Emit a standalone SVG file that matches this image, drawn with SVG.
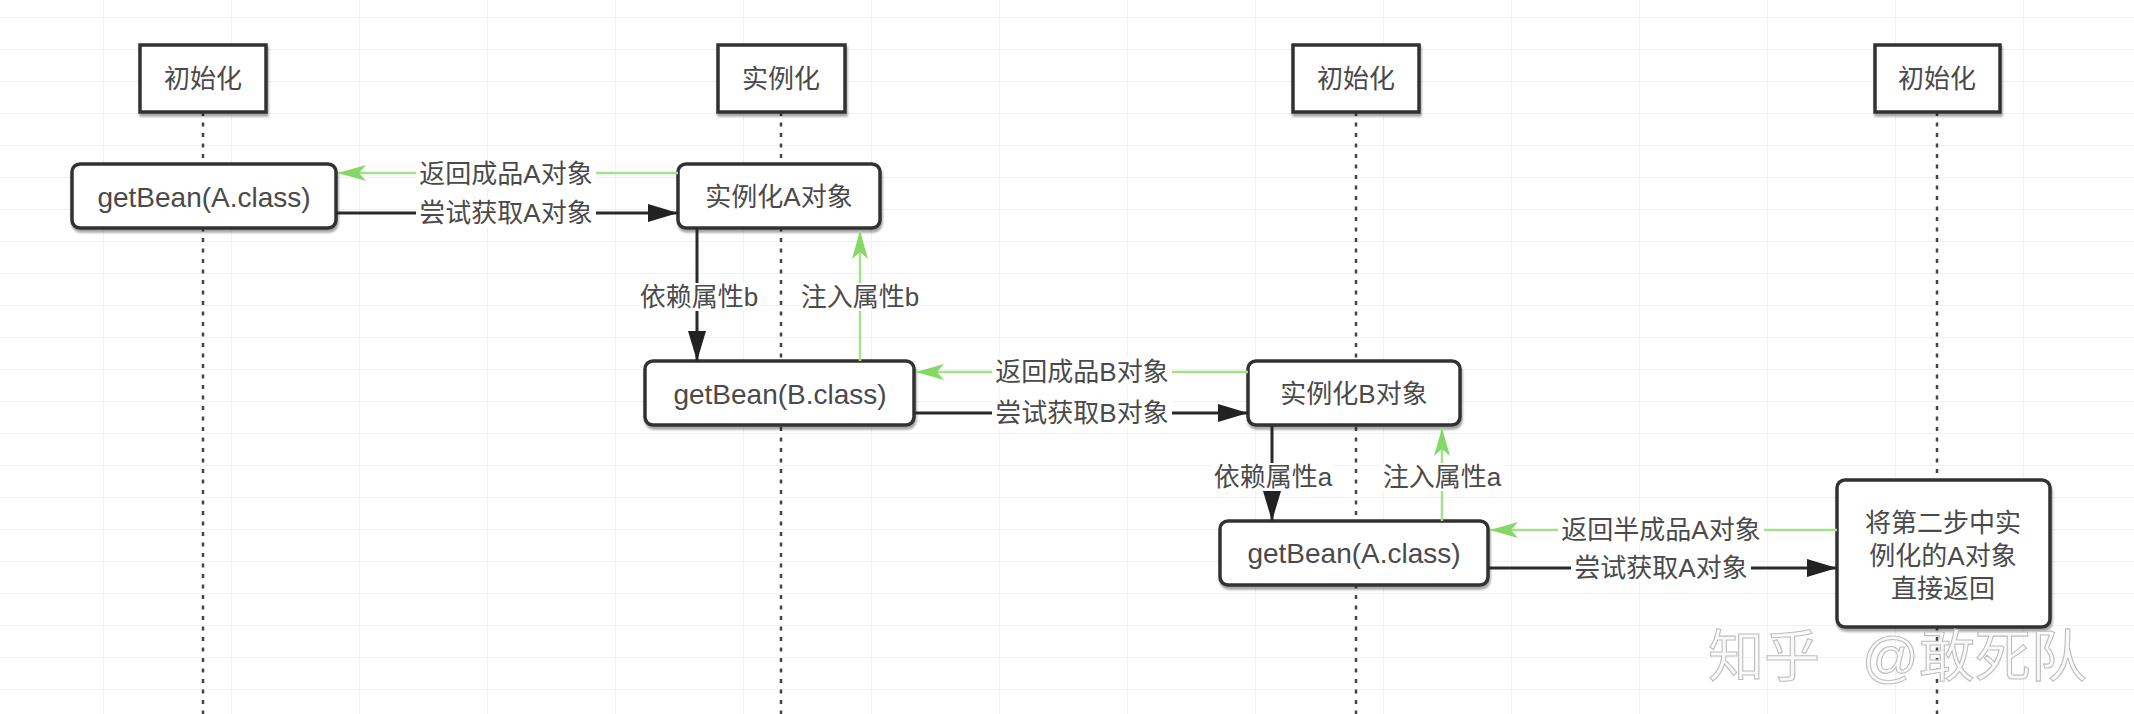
<svg xmlns="http://www.w3.org/2000/svg" width="2134" height="714" viewBox="0 0 2134 714">
  <defs>
    <pattern id="grid" x="-25" y="17" width="128" height="32" patternUnits="userSpaceOnUse">
      <path d="M0,0 H128 M0,0 V32" fill="none" stroke="#eeeeee" stroke-width="1.5"/>
    </pattern>
    <filter id="sh" x="-10%" y="-10%" width="120%" height="130%">
      <feDropShadow dx="1" dy="3" stdDeviation="1.2" flood-color="#000" flood-opacity="0.35"/>
    </filter>
    <marker id="arrB" markerUnits="userSpaceOnUse" markerWidth="30" markerHeight="18" refX="30" refY="9" orient="auto">
      <path d="M0,0 L30,9 L0,18 Z" fill="#222"/>
    </marker>
    <marker id="arrG" markerUnits="userSpaceOnUse" markerWidth="28" markerHeight="16" refX="28" refY="8" orient="auto">
      <path d="M0,0 L28,8 L0,16 L7,8 Z" fill="#86d866"/>
    </marker>
  </defs>
  <style>
    text { font-family: "Liberation Sans", "Noto Sans CJK SC", sans-serif; fill: #4a4a4a; font-size: 26px; }
    .t { text-anchor: middle; dominant-baseline: central; }
    .lat { font-size: 28px; }
    .hdr { fill: #fff; stroke: #333; stroke-width: 3.5; filter: url(#sh); }
    .act { fill: #fff; stroke: #333; stroke-width: 3.5; filter: url(#sh); }
    .life { stroke: #444; stroke-width: 2.5; stroke-dasharray: 4 6.5; fill: none; }
    .blk { stroke: #2a2a2a; stroke-width: 3; fill: none; }
    .grn { stroke: #a6e08c; stroke-width: 2.5; fill: none; }
    .lbg { fill: #fff; }
    .wm { font-size: 56px; fill: #fafafa; stroke: #bdbdbd; stroke-width: 1.1; }
  </style>

  <rect width="2134" height="714" fill="#fff"/>
  <rect width="2134" height="714" fill="url(#grid)"/>

  <g id="lifelines">
    <line class="life" x1="203" y1="112" x2="203" y2="714"/>
    <line class="life" x1="781" y1="112" x2="781" y2="714"/>
    <line class="life" x1="1356" y1="112" x2="1356" y2="714"/>
    <line class="life" x1="1937" y1="112" x2="1937" y2="714"/>
  </g>

  <g id="header1"><rect class="hdr" x="140" y="45" width="126" height="67"/><text class="t" x="203" y="79">初始化</text></g>
  <g id="header2"><rect class="hdr" x="718" y="45" width="127" height="67"/><text class="t" x="781" y="79">实例化</text></g>
  <g id="header3"><rect class="hdr" x="1293" y="45" width="126" height="67"/><text class="t" x="1356" y="79">初始化</text></g>
  <g id="header4"><rect class="hdr" x="1875" y="45" width="125" height="67"/><text class="t" x="1937" y="79">初始化</text></g>

  <g id="getBeanA1"><rect class="act" x="72" y="164" width="264" height="64" rx="8"/><text class="t lat" x="204" y="197">getBean(A.class)</text></g>
  <g id="instA"><rect class="act" x="678" y="164" width="202" height="64" rx="8"/><text class="t" x="779" y="197">实例化A对象</text></g>
  <g id="getBeanB"><rect class="act" x="645" y="361" width="269" height="64" rx="8"/><text class="t lat" x="780" y="394">getBean(B.class)</text></g>
  <g id="instB"><rect class="act" x="1248" y="361" width="212" height="64" rx="8"/><text class="t" x="1354" y="394">实例化B对象</text></g>
  <g id="getBeanA2"><rect class="act" x="1220" y="521" width="268" height="64" rx="8"/><text class="t lat" x="1354" y="553">getBean(A.class)</text></g>
  <g id="returnA"><rect class="act" x="1837" y="480" width="213" height="147" rx="8"/>
    <text class="t" x="1943" y="523">将第二步中实</text>
    <text class="t" x="1943" y="556">例化的A对象</text>
    <text class="t" x="1943" y="589">直接返回</text>
  </g>

  <g id="connectors">
    <line class="grn" x1="678" y1="173" x2="338" y2="173" marker-end="url(#arrG)"/>
    <line class="blk" x1="336" y1="213" x2="678" y2="213" marker-end="url(#arrB)"/>
    <line class="blk" x1="697" y1="228" x2="697" y2="361" marker-end="url(#arrB)"/>
    <line class="grn" x1="860" y1="361" x2="860" y2="231" marker-end="url(#arrG)"/>
    <line class="grn" x1="1248" y1="372" x2="916" y2="372" marker-end="url(#arrG)"/>
    <line class="blk" x1="914" y1="413" x2="1248" y2="413" marker-end="url(#arrB)"/>
    <line class="blk" x1="1272" y1="425" x2="1272" y2="521" marker-end="url(#arrB)"/>
    <line class="grn" x1="1442" y1="521" x2="1442" y2="428" marker-end="url(#arrG)"/>
    <line class="grn" x1="1837" y1="530" x2="1490" y2="530" marker-end="url(#arrG)"/>
    <line class="blk" x1="1488" y1="568" x2="1837" y2="568" marker-end="url(#arrB)"/>

    <rect class="lbg" x="416" y="160" width="180" height="28"/><text class="t" x="506" y="174">返回成品A对象</text>
    <rect class="lbg" x="416" y="199" width="180" height="28"/><text class="t" x="506" y="213">尝试获取A对象</text>
    <rect class="lbg" x="638" y="283" width="122" height="28"/><text class="t" x="699" y="297">依赖属性b</text>
    <rect class="lbg" x="799" y="283" width="122" height="28"/><text class="t" x="860" y="297">注入属性b</text>
    <rect class="lbg" x="992" y="358" width="180" height="28"/><text class="t" x="1082" y="372">返回成品B对象</text>
    <rect class="lbg" x="992" y="399" width="180" height="28"/><text class="t" x="1082" y="413">尝试获取B对象</text>
    <rect class="lbg" x="1212" y="463" width="122" height="28"/><text class="t" x="1273" y="477">依赖属性a</text>
    <rect class="lbg" x="1381" y="463" width="122" height="28"/><text class="t" x="1442" y="477">注入属性a</text>
    <rect class="lbg" x="1558" y="516" width="206" height="28"/><text class="t" x="1661" y="530">返回半成品A对象</text>
    <rect class="lbg" x="1571" y="554" width="180" height="28"/><text class="t" x="1661" y="568">尝试获取A对象</text>
  </g>

  <g id="watermark">
    <text class="wm"><tspan x="1708" y="676">知乎</tspan><tspan x="1862" y="676">@敢死队</tspan></text>
  </g>
</svg>
